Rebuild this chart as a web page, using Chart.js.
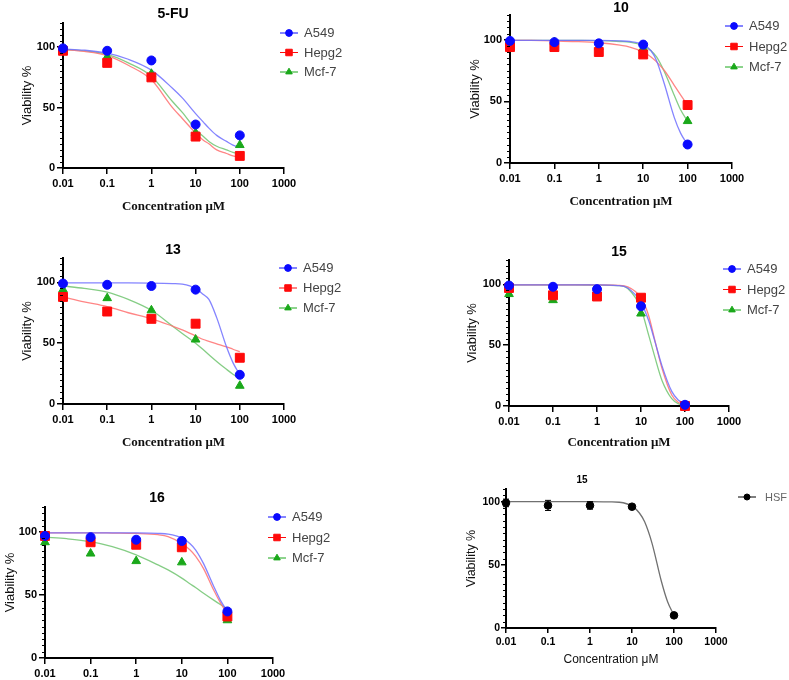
<!DOCTYPE html>
<html>
<head>
<meta charset="utf-8">
<script src="https://cdn.jsdelivr.net/npm/chart.js@4.4.1/dist/chart.umd.min.js"></script>
<style>
  html, body { margin: 0; padding: 0; background: #fff; }
  body { width: 789px; height: 680px; position: relative; overflow: hidden; }
  canvas { position: absolute; }
</style>
</head>
<body>
<script>
// shared axes
const concentrations = [0.01, 0.1, 1, 10, 100];
const fitConc = [0.01, 0.03, 0.1, 0.3, 1, 3, 5, 10, 15, 20, 30, 50, 70, 100];
const xTickValues = [0.01, 0.1, 1, 10, 100, 1000];
const xTickLabels = ['0.01', '0.1', '1', '10', '100', '1000'];
const yTickValues = [0, 50, 100];

// 5-FU
const fuA549 = [99, 97, 89, 36, 27];
const fuHepg2 = [97, 87, 75, 26, 10];
const fuMcf7 = [98, 92, 78, 29, 19];
const fuA549Fit = [98.5, 97.5, 95, 90, 81, 66, 58, 45, 38, 33, 27, 22, 19, 17];
const fuHepg2Fit = [98, 96.5, 93, 85, 73, 50, 41, 29, 23, 20, 15, 12, 10, 9];
const fuMcf7Fit = [98, 97, 94, 87, 76, 55, 46, 32, 26, 22, 18, 15, 13, 12];

// compound 10
const c10A549 = [99, 98, 97, 96, 15];
const c10Hepg2 = [94, 94, 90, 88, 47];
const c10Mcf7 = [99, 98, 94, 93, 34];
const c10A549Fit = [99.5, 99.5, 99.5, 99.5, 99.4, 99, 98.5, 96, 91, 83, 64, 37, 24, 15];
const c10Hepg2Fit = [99.5, 99.4, 99, 98.5, 97.5, 95.5, 94, 90, 86, 82, 75, 63, 55, 47];
const c10Mcf7Fit = [99.5, 99.5, 99.5, 99.4, 99.2, 98.5, 98, 95, 91, 86, 74, 55, 43, 34];

// compound 13
const c13A549 = [99, 98, 97, 94, 24];
const c13Hepg2 = [88, 76, 70, 66, 38];
const c13Mcf7 = [94, 87, 77, 53, 15];
const c13A549Fit = [99.5, 99.5, 99.5, 99.5, 99.4, 99, 98.5, 95, 90, 86, 71, 47, 34, 24];
const c13Hepg2Fit = [88, 84, 80, 75, 70, 64, 61, 56, 53, 51.5, 49.5, 47, 45, 43];
const c13Mcf7Fit = [97, 95, 92, 86, 77, 64, 58, 50, 44.5, 40.5, 35, 28.5, 24.5, 21];

// compound 15
const c15A549 = [99, 98, 96, 82, 1];
const c15Hepg2 = [97, 91, 90, 89, 0];
const c15Mcf7 = [92, 87, 92, 76, 0];
const c15A549Fit = [99.5, 99.5, 99.5, 99.5, 99.5, 99, 97, 85, 70, 55, 33, 12, 5, 2];
const c15Hepg2Fit = [99.5, 99.5, 99.5, 99.5, 99.5, 99.2, 98, 89, 74, 56, 31, 9, 3, 1];
const c15Mcf7Fit = [99.5, 99.5, 99.5, 99.5, 99.4, 99, 96.5, 80, 58, 42, 21, 6, 2, 0.5];

// compound 16
const c16A549 = [97, 96, 94, 93, 37];
const c16Hepg2 = [97, 92, 90, 88, 33];
const c16Mcf7 = [92, 83, 77, 76, 30];
const c16A549Fit = [99.5, 99.5, 99.5, 99.5, 99.4, 99, 98.5, 95.5, 91, 86, 75, 57, 46, 37];
const c16Hepg2Fit = [99.5, 99.5, 99.5, 99.3, 99, 98, 96.5, 91, 86, 81, 71, 54, 44, 35];
const c16Mcf7Fit = [96, 94.8, 92.5, 88.5, 82, 74, 70, 63.5, 59, 56, 51.5, 46, 42.5, 39];

// compound 15 on normal HSF cells
const hsfViability = [99, 97, 97, 96, 10];
const hsfError = [3, 4, 3, 1, 1];
const hsfFit = [100, 100, 100, 100, 100, 99.8, 99.5, 96.5, 91, 84, 67, 37, 21, 10];

const seriesStyle = {
  'A549':  { color: '#0a0aff', line: 'rgba(110,110,255,0.85)', style: 'circle',   r: 4.5, lr: 3.4 },
  'Hepg2': { color: '#ff0a0a', line: 'rgba(255,120,120,0.9)',  style: 'rect',     r: 6.3, lr: 4.6 },
  'Mcf-7': { color: '#1aa81a', line: 'rgba(120,200,120,0.9)',  style: 'triangle', r: 5,   lr: 3.8 },
  'HSF':   { color: '#000',    line: '#707070',                style: 'circle',   r: 3.8, lr: 3 }
};

const SANS = "'Liberation Sans', Arial, sans-serif";
const SERIF = "'Liberation Serif', 'Times New Roman', serif";

const panels = [
  { title: '5-FU', series: [['A549', fuA549, fuA549Fit], ['Hepg2', fuHepg2, fuHepg2Fit], ['Mcf-7', fuMcf7, fuMcf7Fit]],
    box: [0, 0, 400, 225], area: [63, 23, 284, 168], yMax: 120, yW: 43.8, xH: 46.8,
    titlePos: [173, 14], legendPos: [289, 33], legendGap: 19.5 },
  { title: '10', series: [['A549', c10A549, c10A549Fit], ['Hepg2', c10Hepg2, c10Hepg2Fit], ['Mcf-7', c10Mcf7, c10Mcf7Fit]],
    box: [400, 0, 389, 225], area: [510, 15, 732, 163], yMax: 120, yW: 42.8, xH: 46.8,
    titlePos: [621, 8], legendPos: [734, 26], legendGap: 20.5 },
  { title: '13', series: [['A549', c13A549, c13A549Fit], ['Hepg2', c13Hepg2, c13Hepg2Fit], ['Mcf-7', c13Mcf7, c13Mcf7Fit]],
    box: [0, 225, 400, 230], area: [63, 258, 284, 404], yMax: 120, yW: 43.8, xH: 46.8,
    titlePos: [173, 250], legendPos: [288, 268], legendGap: 20 },
  { title: '15', series: [['A549', c15A549, c15A549Fit], ['Hepg2', c15Hepg2, c15Hepg2Fit], ['Mcf-7', c15Mcf7, c15Mcf7Fit]],
    box: [400, 225, 389, 230], area: [509, 260, 729, 406], yMax: 120, yW: 44.8, xH: 44.8,
    titlePos: [619, 252], legendPos: [732, 269], legendGap: 20.5 },
  { title: '16', series: [['A549', c16A549, c16A549Fit], ['Hepg2', c16Hepg2, c16Hepg2Fit], ['Mcf-7', c16Mcf7, c16Mcf7Fit]],
    box: [0, 455, 400, 225], area: [45, 507, 273, 658], yMax: 120, yW: 42.8, xH: 22, noXTitle: true,
    titlePos: [157, 498], legendPos: [277, 517], legendGap: 20.5 },
  { title: '15', series: [['HSF', hsfViability, hsfFit, hsfError]], small: true,
    box: [400, 455, 389, 225], area: [506, 489, 716, 628], yMax: 110, yW: 41.5, xH: 39.2,
    titlePos: [582, 480], legendPos: [747, 497], legendGap: 20 }
];

// little ticks every 5 % on the y axis
const minorTicks = {
  id: 'minorTicks',
  afterDraw(chart, args, opts) {
    const y = chart.scales.y, ctx = chart.ctx;
    ctx.save();
    ctx.strokeStyle = '#000';
    ctx.lineWidth = 1;
    for (let v = 0; v <= y.max; v += 5) {
      if (yTickValues.includes(v)) continue;
      const py = Math.round(y.getPixelForValue(v)) + 0.5;
      ctx.beginPath();
      ctx.moveTo(chart.chartArea.left - opts.length, py);
      ctx.lineTo(chart.chartArea.left, py);
      ctx.stroke();
    }
    ctx.restore();
  }
};

// SEM bars for the HSF panel
const errorBars = {
  id: 'errorBars',
  afterDatasetsDraw(chart) {
    const ctx = chart.ctx, x = chart.scales.x, y = chart.scales.y;
    chart.data.datasets.forEach(ds => {
      if (!ds.errors) return;
      ctx.save();
      ctx.strokeStyle = ds.pointBackgroundColor;
      ctx.lineWidth = 1;
      ds.data.forEach((p, i) => {
        const e = ds.errors[i];
        if (!e) return;
        const px = x.getPixelForValue(p.x);
        const top = y.getPixelForValue(p.y + e), bot = y.getPixelForValue(p.y - e);
        ctx.beginPath();
        ctx.moveTo(px, top); ctx.lineTo(px, bot);
        ctx.moveTo(px - 3, top); ctx.lineTo(px + 3, top);
        ctx.moveTo(px - 3, bot); ctx.lineTo(px + 3, bot);
        ctx.stroke();
      });
      ctx.restore();
    });
  }
};

// panel title and the line+marker legend at the right
const panelDecor = {
  id: 'panelDecor',
  afterDraw(chart, args, o) {
    const ctx = chart.ctx;
    ctx.save();
    ctx.fillStyle = '#000';
    ctx.font = o.titleFont;
    ctx.textAlign = 'center';
    ctx.textBaseline = 'middle';
    ctx.fillText(o.title, o.titleX, o.titleY);
    let row = 0;
    chart.data.datasets.forEach(ds => {
      if (!ds.legendName) return;
      const st = seriesStyle[ds.legendName];
      const lx = o.legendX, ly = o.legendY + row * o.legendGap;
      ctx.strokeStyle = st.color;
      ctx.lineWidth = 1;
      ctx.beginPath();
      ctx.moveTo(lx - 9, ly); ctx.lineTo(lx + 9, ly);
      ctx.stroke();
      ctx.fillStyle = st.color;
      Chart.helpers.drawPoint(ctx, { pointStyle: st.style, radius: st.lr, rotation: 0, borderWidth: 1 }, lx, ly);
      ctx.fillStyle = o.legendColor;
      ctx.font = o.legendFont;
      ctx.textAlign = 'left';
      ctx.fillText(ds.legendName, lx + o.textGap, ly + 0.5);
      row++;
    });
    ctx.restore();
  }
};

panels.forEach(p => {
  const [bx, by, bw, bh] = p.box;
  const [L, T, R, B] = p.area;
  const canvas = document.createElement('canvas');
  canvas.width = bw;
  canvas.height = bh;
  canvas.style.left = bx + 'px';
  canvas.style.top = by + 'px';
  document.body.appendChild(canvas);

  const tickFont = { family: SANS, size: p.small ? 10.5 : 11, weight: 'bold' };
  const datasets = [];
  p.series.forEach(([name, vals, fit, err]) => {
    const st = seriesStyle[name];
    datasets.push({
      legendName: name,
      data: concentrations.map((c, i) => ({ x: c, y: vals[i] })),
      errors: err,
      showLine: false,
      pointStyle: st.style,
      pointRadius: st.r,
      pointBackgroundColor: st.color,
      pointBorderColor: st.color,
      pointBorderWidth: 1,
      clip: false,
      order: 0
    });
    datasets.push({
      data: fitConc.map((c, i) => ({ x: c, y: fit[i] })),
      borderColor: st.line,
      borderWidth: 1.3,
      pointRadius: 0,
      cubicInterpolationMode: 'monotone',
      fill: false,
      clip: false,
      order: 1
    });
  });

  new Chart(canvas, {
    type: 'line',
    data: { datasets },
    plugins: [minorTicks, errorBars, panelDecor],
    options: {
      responsive: false,
      animation: false,
      events: [],
      layout: { padding: { left: L - bx - p.yW, top: T - by, right: bx + bw - R, bottom: by + bh - B - p.xH } },
      plugins: {
        legend: { display: false },
        tooltip: { enabled: false },
        minorTicks: { length: 3 },
        panelDecor: {
          title: p.title,
          titleFont: `bold ${p.small ? 10 : 14}px ${SANS}`,
          titleX: p.titlePos[0] - bx, titleY: p.titlePos[1] - by,
          legendX: p.legendPos[0] - bx, legendY: p.legendPos[1] - by, legendGap: p.legendGap,
          legendFont: `${p.small ? 11 : 13}px ${SANS}`,
          legendColor: p.small ? '#666' : '#444',
          textGap: p.small ? 18 : 15
        }
      },
      scales: {
        x: {
          type: 'logarithmic',
          min: 0.01,
          max: 1000,
          afterBuildTicks: s => { s.ticks = xTickValues.map(v => ({ value: v })); },
          afterFit: s => { s.height = p.xH; },
          border: { color: '#000', width: 2 },
          grid: { drawOnChartArea: false, color: '#000', lineWidth: 1.5, tickLength: p.small ? 5 : 6 },
          ticks: {
            autoSkip: false, maxRotation: 0, color: '#000', font: tickFont,
            padding: 3,
            callback: (v, i) => xTickLabels[i]
          },
          title: p.noXTitle ? { display: false } : {
            display: true,
            text: 'Concentration μM',
            color: '#111',
            padding: 0,
            font: p.small ? { family: SANS, size: 12 } : { family: SERIF, size: 13, weight: 'bold' }
          }
        },
        y: {
          min: 0,
          max: p.yMax,
          afterBuildTicks: s => { s.ticks = yTickValues.map(v => ({ value: v })); },
          afterFit: s => { s.width = p.yW; },
          border: { color: '#000', width: 2 },
          grid: { drawOnChartArea: false, color: '#000', lineWidth: 1.5, tickLength: p.small ? 5 : 6 },
          ticks: { autoSkip: false, color: '#000', font: tickFont, padding: p.small ? 1 : 2 },
          title: {
            display: true,
            text: 'Viability %',
            color: '#111',
            padding: 0,
            font: { family: SANS, size: p.small ? 12.5 : 13 }
          }
        }
      }
    }
  });
});
</script>
</body>
</html>
